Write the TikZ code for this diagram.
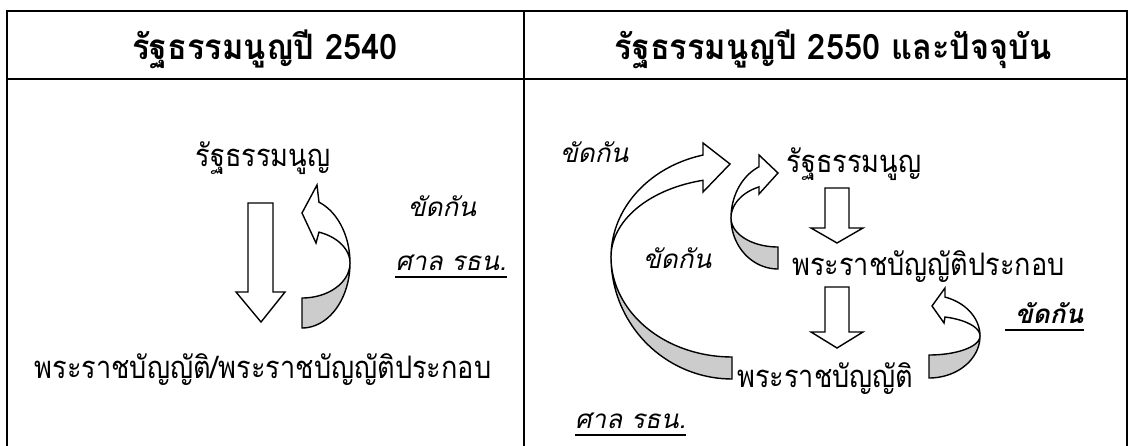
\documentclass[tikz,border=0pt]{standalone}
\usepackage{fontspec}
\newfontfamily\thai[Script=Thai, FakeStretch=0.875]{Loma}
\newfontfamily\thaiH[Script=Thai, FakeStretch=0.93]{Loma}
\newfontfamily\thaiI[Script=Thai]{Loma}
\begin{document}
\begin{tikzpicture}[x=1pt,y=-1pt,
  grid/.style={line width=2.5pt, line join=miter},
  front/.style={draw=black, line width=1.4pt, fill=white, line join=miter},
  back/.style={draw=black, line width=1.4pt, fill=black!20, line join=miter},
  txt/.style={font=\thai\fontsize{31}{33}\selectfont, inner sep=0pt},
  hd/.style={font=\thaiH\bfseries\fontsize{35}{37}\selectfont, inner sep=0pt},
  lab/.style={font=\thaiI\itshape\fontsize{26}{28}\selectfont, inner sep=0pt},
  blab/.style={font=\thaiI\bfseries\itshape\fontsize{26}{28}\selectfont, inner sep=0pt},
  uline/.style={line width=2pt}]
\useasboundingbox (0,0) rectangle (1134,446);
\fill[white] (0,0) rectangle (1134,446);
% table
\draw[grid] (7,470) -- (7,11) -- (1127,11) -- (1127,470);
\draw[grid] (7,79) -- (1127,79);
\draw[grid] (524,11) -- (524,470);
% headers
\node[hd, anchor=base] (h1) at (265,60) {รัฐธรรมนูญปี 2540};
\node[hd, anchor=base] (h2) at (833,60) {รัฐธรรมนูญปี 2550 และปัจจุบัน};
% left column
\node[txt, anchor=base] (c1) at (263,167) {รัฐธรรมนูญ};
\node[txt, anchor=base] (l1) at (263,378) {พระราชบัญญัติ/พระราชบัญญัติประกอบ};
\node[lab, anchor=base] (k1) at (442,217) {ขัดกัน};
\node[lab, anchor=base] (s1) at (451,270) {ศาล รธน.};
\draw[uline] ([yshift=-7pt]s1.base west) -- ([yshift=-7pt]s1.base east);
\draw[front] (248,203) -- (273,203) -- (273,292) -- (285,292) -- (261,322) -- (236,292) -- (248,292) -- cycle;
\filldraw[back] plot[variable=\t, domain=90:0, samples=30] ({302+48*cos(\t)},{263+65*sin(\t)})
  -- plot[variable=\t, domain=0:90, samples=30] ({302+48*cos(\t)},{263+35*sin(\t)}) -- cycle;
\filldraw[front] plot[variable=\t, domain=0:-69.3, samples=30] ({302+48*cos(\t)},{263+65*sin(\t)})
  -- (317,185) -- (302,213) -- (316,243)
  -- plot[variable=\t, domain=-69.3:0, samples=30] ({302+48*cos(\t)},{263+33*sin(\t)}) -- cycle;
% right column
\node[txt, anchor=base] (c2) at (854,173) {รัฐธรรมนูญ};
\node[txt, anchor=base west] (o2) at (792,275) {พระราชบัญญัติประกอบ};
\node[txt, anchor=base west] (a2) at (737,387) {พระราชบัญญัติ};
\node[lab, anchor=base west] (k2) at (560,163) {ขัดกัน};
\node[lab, anchor=base west] (k3) at (643,268) {ขัดกัน};
\node[blab, anchor=base west] (k4) at (1015,323) {ขัดกัน};
\draw[uline] ([shift={(-10pt,-7pt)}]k4.base west) -- ([yshift=-7pt]k4.base east);
\node[lab, anchor=base west] (s2) at (575,428) {ศาล รธน.};
\draw[uline] ([yshift=-7pt]s2.base west) -- ([yshift=-7pt]s2.base east);
\draw[front] (825,188) -- (849,188) -- (849,228) -- (863,228) -- (837,243) -- (811,228) -- (825,228) -- cycle;
\draw[front] (825,287) -- (849,287) -- (849,332) -- (863,332) -- (837,348) -- (811,332) -- (825,332) -- cycle;
% big curved arrow
\filldraw[back] plot[variable=\t, domain=90:180, samples=40] ({732+121*cos(\t)},{257+122*sin(\t)})
  -- plot[variable=\t, domain=180:90, samples=40] ({732+121*cos(\t)},{257+100*sin(\t)}) -- cycle;
\filldraw[front] plot[variable=\t, domain=180:256.1, samples=40] ({732+121*cos(\t)},{257+105*sin(\t)})
  -- (703,143) -- (730,164) -- (703,192)
  -- plot[variable=\t, domain=256.1:180, samples=40] ({732+121*cos(\t)},{257+79*sin(\t)}) -- cycle;
% small upper curved arrow
\filldraw[back] plot[variable=\t, domain=90:180, samples=30] ({778+47*cos(\t)},{218+51*sin(\t)})
  -- plot[variable=\t, domain=180:90, samples=30] ({778+47*cos(\t)},{218+29*sin(\t)}) -- cycle;
\filldraw[front] plot[variable=\t, domain=180:246.2, samples=30] ({778+47*cos(\t)},{218+56*sin(\t)})
  -- (759,155) -- (778,173) -- (759,194)
  -- plot[variable=\t, domain=246.2:180, samples=30] ({778+47*cos(\t)},{218+34*sin(\t)}) -- cycle;
% small lower-right curved arrow
\filldraw[back] plot[variable=\t, domain=90:0, samples=30] ({929+51*cos(\t)},{336+42*sin(\t)})
  -- plot[variable=\t, domain=0:90, samples=30] ({929+51*cos(\t)},{336+19*sin(\t)}) -- cycle;
\filldraw[front] plot[variable=\t, domain=0:-71.7, samples=30] ({929+51*cos(\t)},{336+41*sin(\t)})
  -- (945,288) -- (932,306) -- (944,323)
  -- plot[variable=\t, domain=-71.7:0, samples=30] ({929+51*cos(\t)},{336+20*sin(\t)}) -- cycle;
\end{tikzpicture}
\end{document}
